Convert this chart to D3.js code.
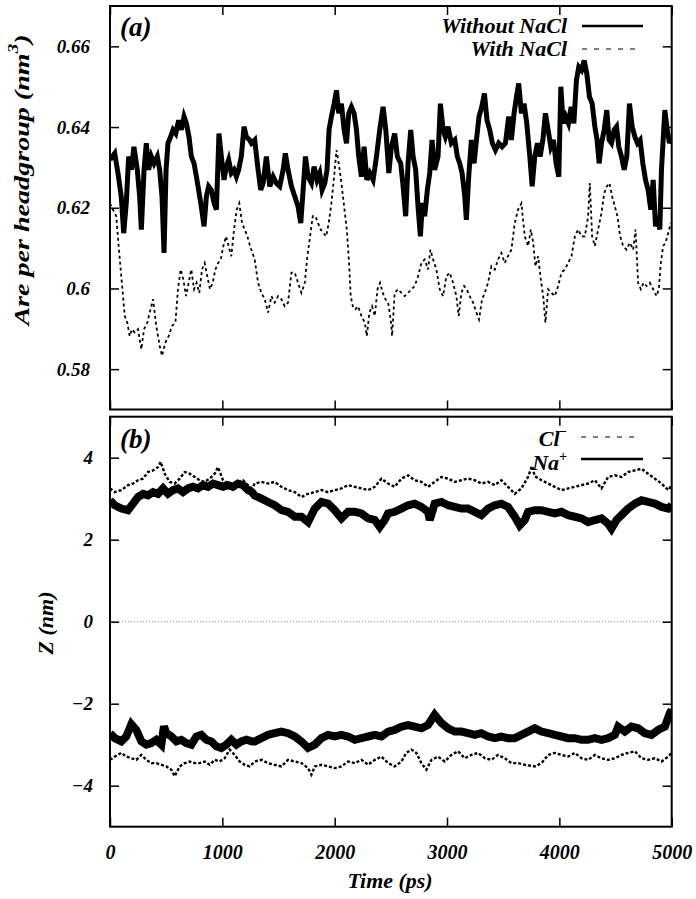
<!DOCTYPE html>
<html><head><meta charset="utf-8">
<script src="https://cdn.jsdelivr.net/npm/d3@7/dist/d3.min.js"></script>
<style>
body{margin:0;background:#fff;}
svg text{font-family:"Liberation Serif",Tinos,"Times New Roman",Times,serif;font-weight:bold;font-style:italic;fill:#000;}
</style>
</head><body>
<svg id="c" width="696" height="899"></svg>
<script>
// ---------------- DATA ----------------
const timeTicks = [0, 1000, 2000, 3000, 4000, 5000];
const timeTickLabels = ["0", "1000", "2000", "3000", "4000", "5000"];
const areaTicks = [0.58, 0.60, 0.62, 0.64, 0.66];
const areaTickLabels = ["0.58", "0.6", "0.62", "0.64", "0.66"];
const zTicks = [-4, -2, 0, 2, 4];
const zTickLabels = ["\u22124", "\u22122", "0", "2", "4"];
const seriesNamesA = ["Without NaCl", "With NaCl"];
const seriesNamesB = ["Cl", "Na"];

// Panel (a): area per headgroup (nm^3) vs time (ps)
const withoutNaCl = [[0,0.6319],[42,0.6335],[71,0.6286],[100,0.6228],[122,0.6137],[145,0.6212],[166,0.6327],[190,0.6294],[213,0.6351],[243,0.6294],[264,0.6228],[279,0.6146],[303,0.6294],[323,0.6360],[344,0.6294],[368,0.6327],[392,0.6310],[421,0.6327],[442,0.6294],[463,0.6228],[481,0.6088],[499,0.6294],[516,0.6360],[540,0.6376],[561,0.6393],[585,0.6384],[611,0.6417],[635,0.6393],[659,0.6426],[680,0.6409],[703,0.6376],[724,0.6327],[748,0.6310],[769,0.6277],[789,0.6244],[813,0.6203],[837,0.6154],[858,0.6228],[878,0.6253],[902,0.6244],[926,0.6212],[947,0.6195],[970,0.6384],[991,0.6327],[1015,0.6269],[1036,0.6302],[1056,0.6319],[1080,0.6286],[1104,0.6294],[1125,0.6277],[1145,0.6294],[1169,0.6327],[1193,0.6401],[1214,0.6376],[1243,0.6368],[1259,0.6360],[1288,0.6368],[1318,0.6294],[1342,0.6244],[1363,0.6261],[1392,0.6327],[1422,0.6253],[1452,0.6277],[1481,0.6261],[1511,0.6253],[1541,0.6294],[1561,0.6335],[1585,0.6294],[1615,0.6253],[1645,0.6228],[1674,0.6203],[1698,0.6162],[1719,0.6244],[1740,0.6327],[1763,0.6277],[1793,0.6261],[1817,0.6302],[1843,0.6269],[1867,0.6286],[1888,0.6244],[1912,0.6261],[1932,0.6294],[1950,0.6393],[1971,0.6426],[1995,0.6458],[2016,0.6491],[2036,0.6434],[2060,0.6458],[2084,0.6393],[2105,0.6360],[2125,0.6434],[2149,0.6450],[2173,0.6434],[2194,0.6393],[2214,0.6327],[2238,0.6277],[2262,0.6351],[2286,0.6269],[2312,0.6286],[2342,0.6269],[2372,0.6327],[2401,0.6393],[2431,0.6450],[2455,0.6393],[2482,0.6286],[2505,0.6351],[2534,0.6384],[2558,0.6327],[2588,0.6310],[2609,0.6253],[2632,0.6179],[2653,0.6310],[2677,0.6393],[2698,0.6327],[2721,0.6294],[2742,0.6203],[2763,0.6129],[2781,0.6212],[2801,0.6179],[2825,0.6244],[2846,0.6286],[2867,0.6368],[2890,0.6294],[2920,0.6327],[2941,0.6458],[2965,0.6393],[2985,0.6376],[3009,0.6401],[3039,0.6360],[3069,0.6368],[3092,0.6327],[3113,0.6310],[3134,0.6286],[3158,0.6228],[3172,0.6170],[3193,0.6277],[3217,0.6368],[3241,0.6310],[3262,0.6368],[3285,0.6426],[3309,0.6450],[3333,0.6483],[3356,0.6417],[3380,0.6393],[3404,0.6360],[3431,0.6343],[3460,0.6360],[3490,0.6351],[3520,0.6360],[3549,0.6426],[3573,0.6368],[3597,0.6434],[3618,0.6475],[3638,0.6508],[3662,0.6434],[3686,0.6458],[3710,0.6409],[3737,0.6327],[3758,0.6253],[3781,0.6327],[3805,0.6360],[3829,0.6327],[3853,0.6368],[3876,0.6434],[3900,0.6393],[3924,0.6351],[3948,0.6368],[3971,0.6310],[3995,0.6277],[4013,0.6500],[4034,0.6409],[4057,0.6426],[4081,0.6409],[4105,0.6450],[4129,0.6409],[4152,0.6516],[4173,0.6549],[4197,0.6541],[4221,0.6565],[4244,0.6533],[4268,0.6475],[4292,0.6458],[4316,0.6401],[4336,0.6368],[4354,0.6310],[4375,0.6360],[4399,0.6393],[4422,0.6442],[4443,0.6368],[4464,0.6360],[4488,0.6393],[4509,0.6401],[4529,0.6351],[4553,0.6327],[4577,0.6294],[4600,0.6327],[4624,0.6458],[4648,0.6401],[4672,0.6376],[4695,0.6360],[4719,0.6368],[4743,0.6310],[4767,0.6269],[4790,0.6244],[4814,0.6195],[4835,0.6269],[4856,0.6154],[4877,0.6179],[4894,0.6146],[4909,0.6294],[4924,0.6368],[4939,0.6442],[4960,0.6393],[4980,0.6360],[5000,0.6376]];

const withNaCl = [[0,0.6211],[27,0.6195],[56,0.6179],[77,0.6105],[95,0.6047],[116,0.5981],[131,0.5932],[154,0.5915],[175,0.5882],[196,0.5899],[220,0.5891],[249,0.5899],[279,0.5849],[303,0.5899],[332,0.5915],[353,0.5940],[383,0.5973],[412,0.5907],[442,0.5858],[463,0.5833],[493,0.5866],[522,0.5882],[552,0.5907],[582,0.5915],[605,0.5998],[629,0.6047],[653,0.6022],[677,0.5981],[700,0.6014],[724,0.6047],[748,0.5998],[771,0.6014],[795,0.5989],[819,0.6047],[843,0.6063],[866,0.6030],[890,0.5998],[914,0.6014],[938,0.6047],[962,0.6063],[986,0.6072],[1009,0.6105],[1033,0.6129],[1056,0.6105],[1080,0.6080],[1104,0.6146],[1128,0.6195],[1151,0.6211],[1175,0.6162],[1199,0.6146],[1223,0.6129],[1247,0.6105],[1288,0.6072],[1318,0.6014],[1348,0.5989],[1378,0.5973],[1407,0.5940],[1437,0.5981],[1466,0.5965],[1496,0.5981],[1526,0.5973],[1555,0.5956],[1585,0.5965],[1615,0.6039],[1645,0.6039],[1674,0.6014],[1704,0.5989],[1734,0.6014],[1757,0.6080],[1781,0.6129],[1805,0.6179],[1829,0.6179],[1852,0.6162],[1876,0.6146],[1900,0.6137],[1924,0.6129],[1947,0.6162],[1971,0.6211],[1995,0.6277],[2016,0.6343],[2036,0.6310],[2060,0.6261],[2084,0.6203],[2108,0.6146],[2128,0.6063],[2143,0.5981],[2161,0.5956],[2185,0.5948],[2208,0.5956],[2238,0.5932],[2268,0.5915],[2286,0.5882],[2309,0.5940],[2333,0.5956],[2357,0.5932],[2381,0.5998],[2404,0.6014],[2428,0.5989],[2452,0.5973],[2476,0.5965],[2499,0.5923],[2511,0.5882],[2534,0.5989],[2564,0.5998],[2594,0.5989],[2623,0.5981],[2653,0.5989],[2683,0.5998],[2712,0.6006],[2742,0.6030],[2772,0.6063],[2801,0.6072],[2831,0.6047],[2852,0.6096],[2876,0.6072],[2905,0.6047],[2935,0.5998],[2965,0.5981],[2994,0.6030],[3024,0.6039],[3054,0.6014],[3083,0.5981],[3104,0.5932],[3128,0.5989],[3152,0.6006],[3175,0.5998],[3202,0.5981],[3232,0.5965],[3262,0.5940],[3285,0.5923],[3312,0.5973],[3336,0.5989],[3365,0.6014],[3395,0.6055],[3425,0.6047],[3454,0.6072],[3484,0.6088],[3514,0.6063],[3543,0.6080],[3573,0.6096],[3603,0.6162],[3632,0.6195],[3662,0.6211],[3692,0.6129],[3722,0.6105],[3746,0.6146],[3767,0.6113],[3787,0.6055],[3811,0.6080],[3835,0.6022],[3856,0.5981],[3876,0.5915],[3900,0.5998],[3930,0.5989],[3959,0.5981],[3989,0.6006],[4019,0.6039],[4048,0.6047],[4078,0.6063],[4108,0.6080],[4138,0.6129],[4167,0.6146],[4197,0.6129],[4227,0.6129],[4256,0.6179],[4271,0.6261],[4292,0.6129],[4316,0.6105],[4345,0.6146],[4375,0.6187],[4399,0.6236],[4422,0.6253],[4446,0.6261],[4470,0.6228],[4494,0.6203],[4517,0.6179],[4541,0.6129],[4568,0.6105],[4598,0.6096],[4627,0.6113],[4657,0.6096],[4678,0.6146],[4701,0.6014],[4725,0.5998],[4749,0.6014],[4776,0.6006],[4805,0.6014],[4835,0.5998],[4865,0.5981],[4885,0.5998],[4903,0.6063],[4924,0.6105],[4945,0.6113],[4969,0.6137],[4992,0.6162]];

// Panel (b): Z position (nm) vs time (ps)
const naUpper = [[0,2.96],[42,2.84],[101,2.76],[160,2.72],[205,2.88],[249,3.04],[294,3.12],[338,3.08],[383,3.16],[427,3.12],[472,3.25],[516,3.12],[561,3.21],[605,3.25],[650,3.16],[694,3.25],[739,3.29],[783,3.25],[828,3.33],[872,3.29],[917,3.37],[961,3.33],[1006,3.29],[1050,3.33],[1095,3.29],[1139,3.37],[1184,3.33],[1228,3.21],[1264,3.16],[1288,3.08],[1348,3.00],[1407,2.92],[1466,2.84],[1526,2.72],[1585,2.68],[1645,2.56],[1704,2.56],[1763,2.43],[1823,2.76],[1882,2.92],[1941,2.88],[2001,2.72],[2060,2.52],[2119,2.68],[2179,2.68],[2238,2.64],[2298,2.52],[2357,2.48],[2401,2.31],[2446,2.48],[2475,2.64],[2534,2.68],[2594,2.76],[2653,2.84],[2712,2.88],[2772,2.80],[2831,2.68],[2846,2.48],[2890,2.88],[2950,2.92],[3009,2.84],[3069,2.80],[3128,2.76],[3187,2.76],[3247,2.68],[3306,2.60],[3366,2.76],[3425,2.84],[3484,2.88],[3543,2.80],[3603,2.56],[3647,2.35],[3692,2.48],[3722,2.68],[3781,2.72],[3841,2.72],[3900,2.68],[3959,2.64],[4019,2.68],[4078,2.60],[4138,2.56],[4197,2.52],[4256,2.43],[4316,2.48],[4375,2.52],[4434,2.39],[4464,2.27],[4509,2.48],[4553,2.60],[4612,2.76],[4672,2.88],[4731,2.96],[4790,2.92],[4850,2.88],[4909,2.80],[4969,2.76],[5000,2.84]];

const clUpper = [[0,3.25],[42,3.16],[101,3.21],[160,3.33],[205,3.37],[249,3.45],[294,3.49],[338,3.65],[383,3.69],[427,3.77],[451,3.90],[487,3.61],[531,3.41],[576,3.37],[620,3.49],[665,3.65],[709,3.61],[754,3.53],[798,3.45],[843,3.41],[887,3.49],[932,3.61],[961,3.77],[1006,3.45],[1050,3.37],[1095,3.33],[1139,3.41],[1184,3.45],[1228,3.33],[1264,3.25],[1288,3.37],[1348,3.41],[1407,3.37],[1466,3.41],[1526,3.29],[1585,3.21],[1645,3.16],[1704,3.04],[1763,3.12],[1823,3.16],[1882,3.21],[1941,3.16],[2001,3.21],[2060,3.25],[2119,3.33],[2179,3.29],[2238,3.25],[2298,3.21],[2357,3.29],[2416,3.49],[2476,3.37],[2534,3.29],[2594,3.49],[2653,3.57],[2712,3.45],[2772,3.41],[2831,3.29],[2890,3.41],[2950,3.53],[3009,3.49],[3069,3.41],[3128,3.45],[3187,3.49],[3247,3.45],[3306,3.37],[3366,3.41],[3425,3.33],[3484,3.45],[3543,3.29],[3603,3.12],[3662,3.25],[3721,3.53],[3757,3.80],[3781,3.55],[3841,3.45],[3900,3.37],[3959,3.29],[4019,3.21],[4078,3.25],[4138,3.29],[4197,3.33],[4256,3.37],[4316,3.45],[4375,3.25],[4434,3.53],[4494,3.57],[4553,3.53],[4612,3.65],[4672,3.69],[4731,3.73],[4790,3.61],[4850,3.49],[4909,3.37],[4969,3.21],[5000,3.33]];

const naLower = [[0,-2.72],[42,-2.84],[101,-2.92],[145,-2.80],[190,-2.50],[234,-2.64],[279,-2.92],[323,-3.00],[368,-2.96],[412,-2.88],[457,-3.00],[480,-2.55],[501,-2.72],[546,-2.80],[591,-2.92],[635,-2.88],[680,-2.96],[724,-3.00],[769,-2.80],[813,-2.76],[858,-2.88],[902,-2.92],[947,-3.04],[991,-3.08],[1036,-3.00],[1080,-2.88],[1125,-3.00],[1169,-2.92],[1214,-2.88],[1264,-2.92],[1288,-2.92],[1348,-2.84],[1407,-2.76],[1466,-2.72],[1526,-2.68],[1585,-2.72],[1645,-2.80],[1704,-2.92],[1763,-3.08],[1823,-3.00],[1882,-2.84],[1941,-2.76],[2001,-2.80],[2060,-2.76],[2119,-2.80],[2179,-2.88],[2238,-2.84],[2298,-2.80],[2357,-2.76],[2416,-2.80],[2476,-2.68],[2534,-2.64],[2594,-2.56],[2653,-2.52],[2712,-2.56],[2772,-2.60],[2831,-2.52],[2890,-2.27],[2950,-2.47],[3009,-2.60],[3069,-2.68],[3128,-2.68],[3187,-2.72],[3247,-2.76],[3306,-2.72],[3366,-2.80],[3425,-2.84],[3484,-2.80],[3543,-2.84],[3603,-2.84],[3662,-2.76],[3721,-2.68],[3781,-2.60],[3841,-2.68],[3900,-2.72],[3959,-2.76],[4019,-2.80],[4078,-2.84],[4138,-2.84],[4197,-2.88],[4256,-2.88],[4316,-2.84],[4375,-2.88],[4434,-2.84],[4494,-2.76],[4523,-2.56],[4583,-2.68],[4642,-2.56],[4701,-2.60],[4761,-2.72],[4820,-2.76],[4879,-2.64],[4939,-2.56],[4983,-2.23],[5000,-2.15]];

const clLower = [[0,-3.37],[42,-3.29],[101,-3.20],[145,-3.29],[190,-3.33],[234,-3.37],[279,-3.25],[323,-3.37],[368,-3.45],[412,-3.45],[457,-3.49],[501,-3.53],[546,-3.61],[576,-3.77],[620,-3.53],[665,-3.45],[709,-3.41],[754,-3.45],[798,-3.45],[843,-3.41],[887,-3.49],[932,-3.37],[976,-3.41],[1021,-3.33],[1065,-3.12],[1110,-3.25],[1154,-3.41],[1199,-3.49],[1243,-3.53],[1288,-3.41],[1348,-3.37],[1407,-3.45],[1466,-3.49],[1526,-3.53],[1585,-3.37],[1645,-3.41],[1704,-3.45],[1763,-3.57],[1793,-3.73],[1823,-3.53],[1882,-3.49],[1941,-3.53],[2001,-3.57],[2060,-3.53],[2119,-3.41],[2179,-3.45],[2238,-3.37],[2298,-3.49],[2357,-3.37],[2416,-3.29],[2476,-3.45],[2534,-3.53],[2594,-3.41],[2638,-3.20],[2683,-3.12],[2727,-3.20],[2772,-3.45],[2816,-3.61],[2861,-3.37],[2920,-3.29],[2980,-3.41],[3039,-3.25],[3098,-3.16],[3158,-3.33],[3217,-3.25],[3276,-3.20],[3336,-3.33],[3395,-3.37],[3454,-3.25],[3514,-3.33],[3573,-3.45],[3632,-3.45],[3692,-3.49],[3781,-3.53],[3841,-3.45],[3900,-3.25],[3959,-3.20],[4019,-3.25],[4078,-3.29],[4138,-3.20],[4197,-3.33],[4256,-3.37],[4316,-3.25],[4375,-3.33],[4434,-3.37],[4494,-3.33],[4553,-3.25],[4612,-3.20],[4672,-3.16],[4731,-3.33],[4790,-3.37],[4850,-3.33],[4909,-3.41],[4969,-3.29],[5000,-3.20]];

// ---------------- DRAW ----------------
const svg = d3.select("#c");
const L = 110, R = 671.7;
const aTop = 6, aBot = 409.5, bTop = 416.7, bBot = 826.7;
const x = d3.scaleLinear().domain([0, 5000]).range([L, R]);
const yA = d3.scaleLinear().domain([0.57, 0.67]).range([aBot, aTop]);
const yB = d3.scaleLinear().domain([-5, 5]).range([bBot, bTop]);
const TK = 9;

const defs = svg.append("defs");
defs.append("clipPath").attr("id","clipA").append("rect").attr("x",L).attr("y",aTop).attr("width",R-L).attr("height",aBot-aTop);
defs.append("clipPath").attr("id","clipB").append("rect").attr("x",L).attr("y",bTop).attr("width",R-L).attr("height",bBot-bTop);

function styleAxis(g, fs){
  g.select(".domain").remove();
  g.selectAll(".tick line").attr("stroke","#000").attr("stroke-width",1.5);
  g.selectAll("text").style("font-size", fs + "px");
}

function panelAxes(yS, top, bot, ticks, labels, labelPad, showX){
  svg.append("g").attr("transform",`translate(${L},0)`)
    .call(d3.axisLeft(yS).tickValues(ticks).tickFormat((d,i)=>labels[i]).tickSizeInner(-TK).tickSizeOuter(0).tickPadding(labelPad))
    .call(g=>styleAxis(g,19));
  svg.append("g").attr("transform",`translate(${R},0)`)
    .call(d3.axisRight(yS).tickValues(ticks).tickFormat("").tickSizeInner(-TK).tickSizeOuter(0))
    .call(g=>styleAxis(g,19));
  svg.append("g").attr("transform",`translate(0,${top})`)
    .call(d3.axisTop(x).tickValues(timeTicks).tickFormat("").tickSizeInner(-TK).tickSizeOuter(0))
    .call(g=>styleAxis(g,19));
  const bx = d3.axisBottom(x).tickValues(timeTicks).tickSizeInner(-TK).tickSizeOuter(0).tickPadding(18)
    .tickFormat(showX ? ((d,i)=>timeTickLabels[i]) : "");
  svg.append("g").attr("transform",`translate(0,${bot})`).call(bx).call(g=>styleAxis(g,20));
  svg.append("rect").attr("x",L).attr("y",top).attr("width",R-L).attr("height",bot-top)
    .attr("fill","none").attr("stroke","#000").attr("stroke-width",2);
}

// Panel (a) curves
const lineA = d3.line().x(d=>x(d[0])).y(d=>yA(d[1]));
const gA = svg.append("g").attr("clip-path","url(#clipA)");
gA.append("path").datum(withNaCl).attr("d",lineA).attr("fill","none")
  .attr("stroke","#000").attr("stroke-width",1.8).attr("stroke-dasharray","3,3");
gA.append("path").datum(withoutNaCl).attr("d",lineA).attr("fill","none")
  .attr("stroke","#000").attr("stroke-width",5).attr("stroke-linejoin","miter");

// Panel (b) curves
const lineB = d3.line().x(d=>x(d[0])).y(d=>yB(d[1]));
const gB = svg.append("g").attr("clip-path","url(#clipB)");
gB.append("line").attr("x1",L).attr("x2",R).attr("y1",yB(0)).attr("y2",yB(0))
  .attr("stroke","#999").attr("stroke-width",1).attr("stroke-dasharray","1,2");
[clUpper, clLower].forEach(s=>{
  gB.append("path").datum(s).attr("d",lineB).attr("fill","none")
    .attr("stroke","#000").attr("stroke-width",2.4).attr("stroke-dasharray","3,2");
});
[naUpper, naLower].forEach(s=>{
  gB.append("path").datum(s).attr("d",lineB).attr("fill","none")
    .attr("stroke","#000").attr("stroke-width",8);
});

panelAxes(yA, aTop, aBot, areaTicks, areaTickLabels, 20, false);
panelAxes(yB, bTop, bBot, zTicks, zTickLabels, 17, true);

// panel letters
svg.append("text").attr("x",120).attr("y",36).style("font-size","27px").text("(a)");
svg.append("text").attr("x",120).attr("y",448).style("font-size","27px").text("(b)");

// Legend (a)
svg.append("text").attr("x",567).attr("y",33).attr("text-anchor","end").style("font-size","22px").text(seriesNamesA[0]);
svg.append("line").attr("x1",582).attr("x2",643).attr("y1",26).attr("y2",26).attr("stroke","#000").attr("stroke-width",2.5);
svg.append("text").attr("x",567).attr("y",56).attr("text-anchor","end").style("font-size","22px").text(seriesNamesA[1]);
svg.append("line").attr("x1",582).attr("x2",638).attr("y1",49).attr("y2",49).attr("stroke","#000").attr("stroke-width",1.2).attr("stroke-dasharray","5,7");

// Legend (b)
const cl = svg.append("text").attr("x",567).attr("y",446).attr("text-anchor","end").style("font-size","22px");
cl.append("tspan").text(seriesNamesB[0]);
cl.append("tspan").attr("dy",-10).attr("dx",-1).style("font-size","14px").text("\u2212");
svg.append("line").attr("x1",581).attr("x2",638).attr("y1",437).attr("y2",437).attr("stroke","#000").attr("stroke-width",1.2).attr("stroke-dasharray","5,7");
const na = svg.append("text").attr("x",567).attr("y",470).attr("text-anchor","end").style("font-size","22px");
na.append("tspan").text(seriesNamesB[1]);
na.append("tspan").attr("dy",-9).style("font-size","14px").text("+");
svg.append("line").attr("x1",581).attr("x2",643).attr("y1",459).attr("y2",459).attr("stroke","#000").attr("stroke-width",2.5);

// Axis titles
function fitText(sel, tx, ty, rot, target){
  const w = sel.node().getBBox().width;
  const s = target / w;
  sel.attr("transform",`translate(${tx},${ty}) rotate(${rot}) scale(${s},1)`);
}
const yl = svg.append("text").attr("text-anchor","middle").style("font-size","22px");
yl.append("tspan").text("Are per headgroup (nm");
yl.append("tspan").attr("dy",-11).style("font-size","15px").text("3");
yl.append("tspan").attr("dy",11).text(")");
fitText(yl, 29, 180, -90, 294);

const zl = svg.append("text").attr("text-anchor","middle").style("font-size","22px").text("Z (nm)");
zl.attr("transform","translate(53,623) rotate(-90)");

const tl = svg.append("text").attr("text-anchor","middle").style("font-size","21px").text("Time (ps)");
fitText(tl, 390, 888, 0, 85);
</script>
</body></html>
